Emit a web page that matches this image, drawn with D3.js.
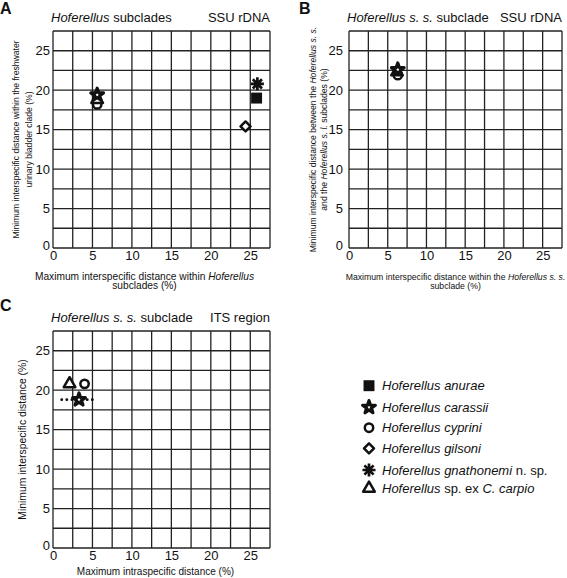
<!DOCTYPE html>
<html><head><meta charset="utf-8">
<script src="https://cdn.jsdelivr.net/npm/d3@7"></script>
<style>body{margin:0;background:#fff} svg{display:block;font-family:"Liberation Sans",Arial,Helvetica,sans-serif}</style>
</head><body><svg id="c" width="567" height="578"></svg>
<script>
// ---------- data ----------
const species = ["Hoferellus anurae","Hoferellus carassii","Hoferellus cyprini","Hoferellus gilsoni","Hoferellus gnathonemi","Hoferellus sp. ex C. carpio"];
const symbolKeys = ["square","star","circle","diamond","asterisk","triangle"];
const tickValues = [0,5,10,15,20,25];
const gridValues = [0,2.5,5,7.5,10,12.5,15,17.5,20,22.5,25,27.5];
// panel A: SSU rDNA, Hoferellus subclades
const aX = [25.8, 5.6, 5.6, 24.4, 25.9, 5.6];
const aY = [19.0, 19.4, 18.2, 15.4, 20.8, 18.8];
// panel B: SSU rDNA, Hoferellus s. s. subclade (carassii, cyprini, sp. ex C. carpio)
const bX = [null, 6.3, 6.3, null, null, 6.2];
const bY = [null, 22.6, 21.9, null, null, 22.3];
// panel C: ITS region, Hoferellus s. s. subclade
const cX = [null, 3.3, 4.0, null, null, 2.1];
const cY = [null, 18.8, 20.8, null, null, 20.8];
const cRangeMin = [1.1];   // intraspecific distance range of H. carassii (dotted)
const cRangeMax = [5.5];

const svg = d3.select("#c");
const drawOrder = [2,5,1,3,0,4];

function symbolPath(key){
  if(key==="asterisk"){
    const r=6.5; let p="";
    for(let i=0;i<4;i++){const a=i*Math.PI/4;const dx=r*Math.cos(a),dy=r*Math.sin(a);p+=`M${-dx},${-dy}L${dx},${dy}`;}
    return p;
  }
  if(key==="diamond"){
    const r=5; return `M0,${-r}L${r},0L0,${r}L${-r},0Z`;
  }
  const map={square:[d3.symbolSquare,120],star:[d3.symbolStar,50],circle:[d3.symbolCircle,55],triangle:[d3.symbolTriangle,58]};
  return d3.symbol().type(map[key][0]).size(map[key][1])();
}
function drawSymbol(g,key,x,y){
  const p=g.append("path").attr("d",symbolPath(key)).attr("transform",`translate(${x},${y})`);
  if(key==="square") p.attr("fill","#111");
  else if(key==="asterisk") p.attr("fill","none").attr("stroke","#111").attr("stroke-width",2.7);
  else if(key==="star") p.attr("fill","#fff").attr("stroke","#111").attr("stroke-width",3.2).attr("stroke-linejoin","round");
  else p.attr("fill","#fff").attr("stroke","#111").attr("stroke-width",2.5).attr("stroke-linejoin","round");
}

function panel(o){
  const g=svg.append("g");
  const x=d3.scaleLinear().domain([0,27.5]).range([o.x0,o.x1]);
  const y=d3.scaleLinear().domain([0,27.5]).range([o.y1,o.y0]);
  // grid
  g.append("g").selectAll("line.v").data(gridValues).join("line")
    .attr("x1",d=>x(d)).attr("x2",d=>x(d)).attr("y1",o.y0).attr("y2",o.y1)
    .attr("stroke","#222").attr("stroke-width",1.3);
  g.append("g").selectAll("line.h").data(gridValues).join("line")
    .attr("y1",d=>y(d)).attr("y2",d=>y(d)).attr("x1",o.x0).attr("x2",o.x1)
    .attr("stroke","#222").attr("stroke-width",1.3);
  // axes (labels only)
  const ax=g.append("g").attr("transform",`translate(0,${o.y1})`)
    .call(d3.axisBottom(x).tickValues(tickValues).tickSize(0).tickPadding(3));
  const ay=g.append("g").attr("transform",`translate(${o.x0},0)`)
    .call(d3.axisLeft(y).tickValues(tickValues).tickSize(0).tickPadding(o.yPad));
  [ax,ay].forEach(a=>{a.select(".domain").remove();a.selectAll("text").attr("font-size",13).attr("fill","#111").attr("font-family",null);});
  ay.selectAll(".tick").filter(d=>d===0).select("text").attr("dy","0.1em");
  // titles
  const t=g.append("text").attr("x",o.x0-2).attr("y",o.y0-9).attr("font-size",13).attr("fill","#111");
  o.title.forEach(s=>t.append("tspan").attr("font-style",s[1]?"italic":null).text(s[0]));
  g.append("text").attr("x",o.x1).attr("y",o.y0-9).attr("text-anchor","end").attr("font-size",13).attr("fill","#111").text(o.right);
  g.append("text").attr("x",o.lx).attr("y",o.ly).attr("font-size",16).attr("font-weight","bold").attr("fill","#111").text(o.letter);
  // x title
  const cx=(o.x0+o.x1)/2+(o.xtShift||0);
  o.xTitle.forEach((line,i)=>{
    const tt=g.append("text").attr("x",cx).attr("y",o.y1+o.xtDy+i*9.5).attr("text-anchor","middle").attr("font-size",o.xfs).attr("fill","#111");
    line.forEach(s=>tt.append("tspan").attr("font-style",s[1]?"italic":null).text(s[0]));
  });
  const cy=(o.y0+o.y1)/2;
  o.yTitle.forEach((line,i)=>{
    const tt=g.append("text").attr("transform",`translate(${o.ytX+i*o.ytGap},${cy}) rotate(-90)`).attr("text-anchor","middle").attr("font-size",o.yfs).attr("fill","#111");
    line.forEach(s=>tt.append("tspan").attr("font-style",s[1]?"italic":null).text(s[0]));
  });
  // range line
  if(o.range){
    o.range.min.forEach((m,i)=>{
      g.append("line").attr("x1",x(m)).attr("x2",x(o.range.max[i])).attr("y1",y(o.range.y)).attr("y2",y(o.range.y))
        .attr("stroke","#111").attr("stroke-width",2.8).attr("stroke-linecap","round").attr("stroke-dasharray","0.1 5");
    });
  }
  // points
  drawOrder.forEach(i=>{
    if(o.px[i]==null) return;
    drawSymbol(g,symbolKeys[i],x(o.px[i]),y(o.py[i]));
  });
}

panel({x0:53,x1:270,y0:31,y1:248,yPad:3,letter:"A",lx:0,ly:14,xfs:10.2,yfs:8.6,
  title:[["Hoferellus",1],[" subclades",0]],right:"SSU rDNA",
  xTitle:[[["Maximum interspecific distance within ",0],["Hoferellus",1]],[["subclades (%)",0]]],xtDy:31.5,xtShift:-17,
  yTitle:[[["Minimum interspecific distance within the freshwater",0]],[["urinary bladder clade (%)",0]]],ytX:19,ytGap:13,
  px:aX,py:aY});
panel({x0:349,x1:562,y0:31,y1:248,yPad:6,letter:"B",lx:299,ly:14,xfs:8.7,yfs:8.6,
  title:[["Hoferellus s. s.",1],[" subclade",0]],right:"SSU rDNA",
  xTitle:[[["Maximum interspecific distance within the ",0],["Hoferellus s. s.",1]],[["subclade (%)",0]]],xtDy:31.5,
  yTitle:[[["Minimum interspecific distance between the ",0],["Hoferellus s. s.",1]],[["and the ",0],["Hoferellus s. l.",1],[" subclades (%)",0]]],ytX:316,ytGap:11,
  px:bX,py:bY});
panel({x0:53,x1:270,y0:331,y1:548,yPad:3,letter:"C",lx:0,ly:311,xfs:10,yfs:10.4,
  title:[["Hoferellus s. s.",1],[" subclade",0]],right:"ITS region",
  xTitle:[[["Maximum intraspecific distance (%)",0]]],xtDy:27,xtShift:-6,
  yTitle:[[["Minimum interspecific distance (%)",0]]],ytX:26,ytGap:0,
  px:cX,py:cY,range:{min:cRangeMin,max:cRangeMax,y:cY[1]}});

// legend
const legRows=[385.7,407.3,427.7,448.3,470,488.3];
const legLabels=[
  [["Hoferellus anurae",1]],
  [["Hoferellus carassii",1]],
  [["Hoferellus cyprini",1]],
  [["Hoferellus gilsoni",1]],
  [["Hoferellus gnathonemi",1],[" n. sp.",0]],
  [["Hoferellus",1],[" sp. ex ",0],["C. carpio",1]]
];
const lg=svg.append("g");
species.forEach((s,i)=>{
  drawSymbol(lg,symbolKeys[i],369,legRows[i]);
  const t=lg.append("text").attr("x",382).attr("y",legRows[i]).attr("dy","0.35em").attr("font-size",13).attr("fill","#111");
  legLabels[i].forEach(p=>t.append("tspan").attr("font-style",p[1]?"italic":null).text(p[0]));
});
</script></body></html>
